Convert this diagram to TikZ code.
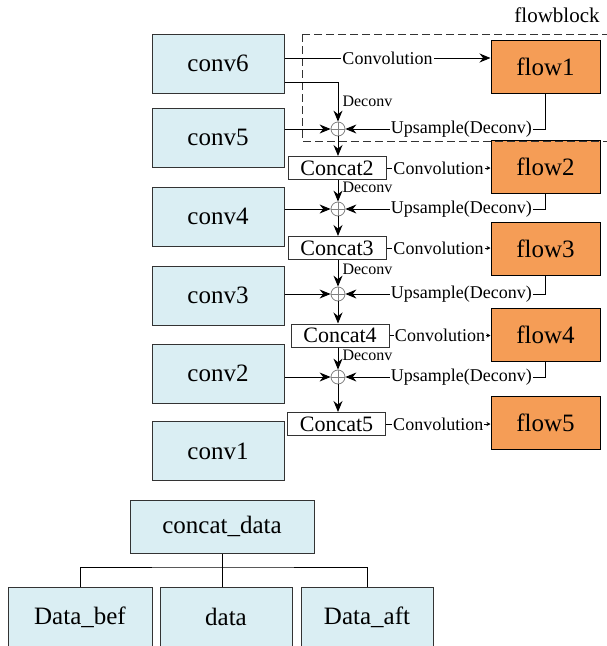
\documentclass[tikz,border=0pt]{standalone}
\usepackage{fontspec}
\setmainfont{Liberation Serif}
\usetikzlibrary{arrows.meta, positioning, calc}
\definecolor{convblue}{HTML}{DAEEF3}
\definecolor{floworange}{HTML}{F59D56}
\definecolor{edge}{HTML}{333333}
\tikzset{
  convbox/.style={draw=edge, line width=1pt, fill=convblue, minimum width=132, minimum height=59, inner sep=0pt, font=\fontsize{25}{28}\selectfont},
  flowbox/.style={draw=black, line width=1pt, fill=floworange, minimum width=109, minimum height=53, inner sep=0pt, font=\fontsize{25}{28}\selectfont},
  catbox/.style={draw=edge, line width=1pt, fill=white, minimum width=98, minimum height=23, inner sep=0pt, font=\fontsize{22}{24}\selectfont},
  plus/.style={circle, draw=gray, line width=0.8pt, minimum size=14, inner sep=0pt,
    path picture={\draw[gray, line width=0.8pt] (path picture bounding box.north) -- (path picture bounding box.south)
      (path picture bounding box.west) -- (path picture bounding box.east);}},
  lbl/.style={fill=white, inner sep=1pt, font=\fontsize{18}{20}\selectfont},
  dlbl/.style={anchor=west, inner sep=1pt, xshift=3pt, font=\fontsize{16}{18}\selectfont},
  link/.style={draw=black, line width=1pt},
  bigtip/.style={-{Stealth[length=11pt, width=9pt]}},
  smalltip/.style={-{Stealth[length=4pt, width=4pt]}},
  fbframe/.style={draw=edge, line width=1pt, dash pattern=on 8pt off 4pt}
}
\begin{document}
\begin{tikzpicture}[x=1pt, y=-1pt]
\useasboundingbox (0,0) rectangle (606,646);
% encoder side
\foreach \n/\y in {6/63.5,5/137.5,4/216.5,3/295.5,2/373.5,1/451}
  \node[convbox] (conv\n) at (218,\y) {conv\n};
% flow predictions
\foreach \n/\y in {1/66.5,2/166.5,3/248.5,4/334.5,5/422.5}
  \node[flowbox] (flow\n) at (545.5,\y) {flow\n};
% concatenations and sums
\foreach \n/\x/\y in {2/337/168,3/337/248,4/340/335.5,5/336.5/424}
  \node[catbox] (cat\n) at (\x,\y) {Concat\n};
\foreach \n/\y in {1/129,2/209,3/294,4/377}
  \node[plus] (p\n) at (338,\y) {};
% the flowblock frame
\draw[fbframe] (302,34) rectangle (625,141);
\node[font=\fontsize{21}{23}\selectfont] (fblabel) at (557,15) {flowblock};
% conv6 feeds flow1 and the first sum
\draw[link, bigtip] ([yshift=5.5]conv6.east) -- node[lbl] {Convolution} ([yshift=5.5]conv6.east -| flow1.west);
\draw[link, bigtip] ([yshift=-18.5]conv6.east) -| node[dlbl, pos=0.75] {Deconv} (p1);
\foreach \c/\p in {5/1,4/2,3/3,2/4}
  \draw[link, bigtip] (conv\c.east |- p\p) -- (p\p);
% sum -> concat, concat -> next sum
\foreach \p/\c in {1/2,2/3,3/4,4/5}
  \draw[link, bigtip] (p\p) -- (p\p |- cat\c.north);
\foreach \c/\p in {2/2,3/3,4/4}
  \draw[link, bigtip] (cat\c.south -| p\p) -- node[dlbl, pos=0.35] {Deconv} (p\p);
% concat -> flow
\foreach \c in {2,3,4,5}
  \draw[link, smalltip] (cat\c) -- node[lbl] {Convolution} (cat\c -| flow\c.west);
% upsampled flow back into the sums
\foreach \f in {1,2,3,4}
  \draw[link, bigtip] (flow\f.south) |- node[lbl, pos=0.71] {Upsample(Deconv)} (p\f);
% input data tree
\node[convbox, minimum width=184, minimum height=53] (cdata) at (222,526.5) {concat\_data};
\node[convbox, minimum width=144, minimum height=60] (dbef) at (80,617) {Data\_bef};
\node[convbox, minimum height=60] (data) at (226,617) {data};
\node[convbox, minimum height=60] (daft) at (367,617) {Data\_aft};
\coordinate (split) at (222,567);
\draw[link] (cdata.south) -- (cdata.south |- data.north);
\draw[link] (dbef.north) |- (split) -| (daft.north);
\end{tikzpicture}
\end{document}
